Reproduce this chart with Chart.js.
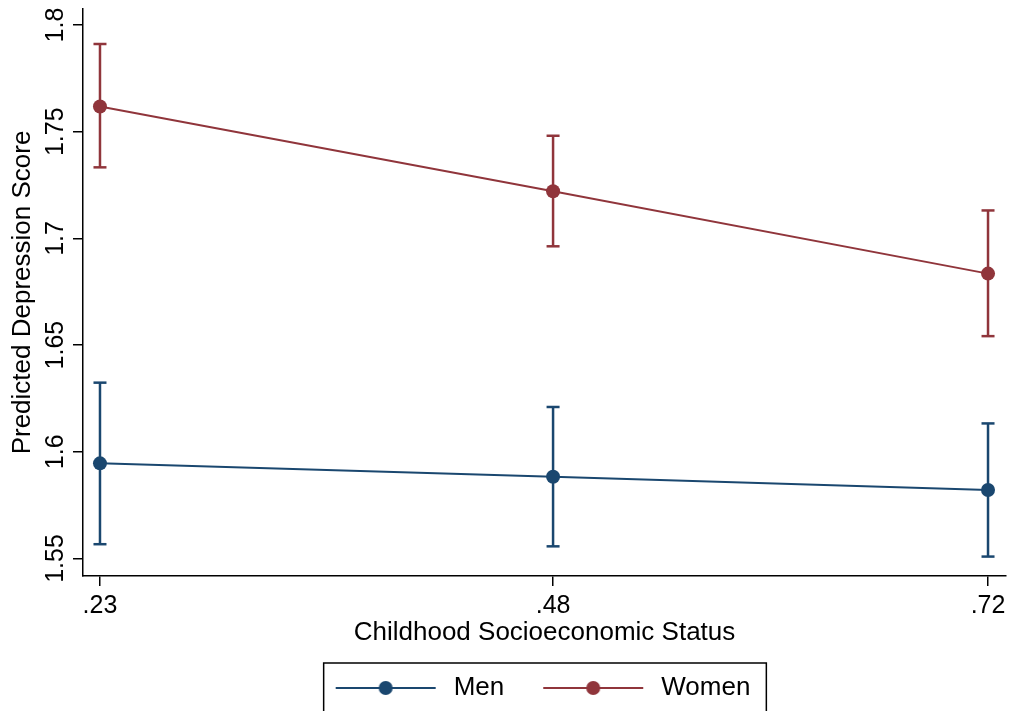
<!DOCTYPE html>
<html>
<head>
<meta charset="utf-8">
<script src="https://cdn.jsdelivr.net/npm/chart.js@4/dist/chart.umd.min.js"></script>
<style>
  html, body { margin: 0; padding: 0; background: #fff; }
  #c { display: block; }
</style>
</head>
<body>
<canvas id="c" width="1015" height="711"></canvas>
<script>
// Predicted depression score by childhood SES, with 95% confidence intervals
const sesLevels   = [0.23, 0.48, 0.72];
const seriesNames = ['Men', 'Women'];
const menMeans    = [1.5946, 1.5883, 1.5821];
const menLower    = [1.5567, 1.5557, 1.5509];
const menUpper    = [1.6324, 1.6210, 1.6133];
const womenMeans  = [1.7618, 1.7221, 1.6835];
const womenLower  = [1.7333, 1.6963, 1.6542];
const womenUpper  = [1.7911, 1.7481, 1.7131];
const yTickValues = [1.55, 1.6, 1.65, 1.7, 1.75, 1.8];

const NAVY = '#1a476f';
const MAROON = '#90353b';
const FONT = "'Liberation Sans', Arial, Helvetica, sans-serif";

Chart.defaults.font.family = FONT;
Chart.defaults.color = '#000';

// legend glyph: short line with a dot in the middle
const GLYPH_LEAD = 29, GLYPH_LINE = 100, GLYPH_TAIL = 5;
const GLYPH_W = GLYPH_LEAD + GLYPH_LINE + GLYPH_TAIL;
function legendGlyph(color) {
  const cv = document.createElement('canvas');
  cv.width = GLYPH_W; cv.height = 20;
  const g = cv.getContext('2d');
  g.strokeStyle = color; g.lineWidth = 2;
  g.beginPath(); g.moveTo(GLYPH_LEAD, 10); g.lineTo(GLYPH_LEAD + GLYPH_LINE, 10); g.stroke();
  g.fillStyle = color;
  g.beginPath(); g.arc(GLYPH_LEAD + GLYPH_LINE / 2, 10, 7, 0, Math.PI * 2); g.fill();
  return cv;
}

function meanSeries(name, means, color) {
  return {
    label: name,
    data: sesLevels.map((x, i) => ({ x: x, y: means[i] })),
    showLine: true,
    borderColor: color,
    backgroundColor: color,
    borderWidth: 2,
    pointRadius: 7,
    pointBackgroundColor: color,
    pointBorderWidth: 0,
    pointHoverRadius: 7,
    glyph: legendGlyph(color)
  };
}

// one vertical capped bar per estimate
function ciBars(name, lower, upper, color) {
  return sesLevels.map((x, i) => ({
    label: name + ' CI',
    ciBar: true,
    data: [{ x: x, y: lower[i] }, { x: x, y: upper[i] }],
    showLine: true,
    borderColor: color,
    borderWidth: 2.5,
    pointStyle: 'line',
    pointRadius: 6.5,
    pointHoverRadius: 6.5,
    pointBorderColor: color,
    pointBorderWidth: 2.5
  }));
}

const datasets = [
  meanSeries(seriesNames[0], menMeans, NAVY),
  meanSeries(seriesNames[1], womenMeans, MAROON),
  ...ciBars(seriesNames[0], menLower, menUpper, NAVY),
  ...ciBars(seriesNames[1], womenLower, womenUpper, MAROON)
];

// nudge the legend row a little left of centre and frame it
const LEGEND_SHIFT = 16;
const legendFrame = {
  id: 'legendFrame',
  afterLayout(chart) {
    const lg = chart.legend;
    if (!lg) return;
    lg.left -= LEGEND_SHIFT;
    lg.right -= LEGEND_SHIFT;
  },
  afterDraw(chart) {
    const hb = chart.legend && chart.legend.legendHitBoxes;
    if (!hb || !hb.length) return;
    const first = hb[0], last = hb[hb.length - 1];
    const left = first.left + GLYPH_LEAD - 12;
    const right = last.left + last.width + 16;
    const top = first.top - 12;
    const ctx = chart.ctx;
    ctx.save();
    ctx.strokeStyle = '#000';
    ctx.lineWidth = 1.5;
    ctx.strokeRect(left, top, right - left, 80);
    ctx.restore();
  }
};

new Chart(document.getElementById('c'), {
  type: 'scatter',
  data: { datasets: datasets },
  plugins: [legendFrame],
  options: {
    responsive: false,
    animation: false,
    devicePixelRatio: 1,
    events: [],
    layout: { padding: { top: 9, right: 8, left: 0, bottom: 0 } },
    scales: {
      x: {
        type: 'linear',
        min: 0.22063,
        max: 0.72992,
        afterBuildTicks(s) { s.ticks = sesLevels.map(v => ({ value: v })); },
        afterFit(s) { s.height = 89; },
        ticks: {
          font: { size: 25 },
          color: '#000',
          padding: 5,
          autoSkip: false,
          maxRotation: 0,
          callback: v => String(v).replace(/^0/, '')
        },
        grid: { display: true, drawOnChartArea: false, drawTicks: true, tickLength: 10, color: '#000', lineWidth: 1.5 },
        border: { display: true, color: '#000', width: 1.5 },
        title: {
          display: true,
          text: 'Childhood Socioeconomic Status',
          font: { size: 26 },
          color: '#000',
          padding: { top: 0, bottom: 17 }
        }
      },
      y: {
        type: 'linear',
        min: 1.5418,
        max: 1.8075,
        afterBuildTicks(s) { s.ticks = yTickValues.map(v => ({ value: v })); },
        afterFit(s) { s.width = 83; },
        ticks: {
          font: { size: 25 },
          color: '#000',
          minRotation: 90,
          maxRotation: 90,
          crossAlign: 'center',
          padding: -7,
          autoSkip: false,
          callback: v => String(v)
        },
        grid: { display: true, drawOnChartArea: false, drawTicks: true, tickLength: 10, color: '#000', lineWidth: 1.5 },
        border: { display: true, color: '#000', width: 1.5 },
        title: {
          display: true,
          text: 'Predicted Depression Score',
          font: { size: 26 },
          color: '#000',
          padding: { top: 7, bottom: 0 }
        }
      }
    },
    plugins: {
      tooltip: { enabled: false },
      legend: {
        display: true,
        position: 'bottom',
        fullSize: false,
        labels: {
          usePointStyle: true,
          pointStyleWidth: GLYPH_W,
          boxHeight: 20,
          padding: 10,
          font: { size: 26 },
          color: '#000',
          generateLabels(chart) {
            const items = Chart.defaults.plugins.legend.labels.generateLabels(chart);
            return items
              .filter(it => !chart.data.datasets[it.datasetIndex].ciBar)
              .map(it => {
                it.pointStyle = chart.data.datasets[it.datasetIndex].glyph;
                return it;
              });
          }
        }
      }
    }
  }
});
</script>
</body>
</html>
